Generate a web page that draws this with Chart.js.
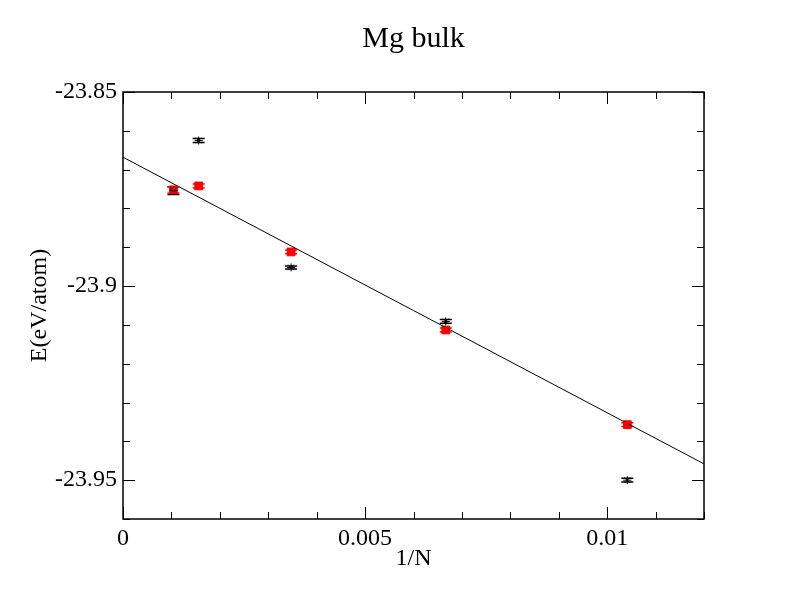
<!DOCTYPE html>
<html><head><meta charset="utf-8">
<script src="https://cdn.jsdelivr.net/npm/chart.js@4/dist/chart.umd.min.js"></script>
<style>html,body{margin:0;padding:0;background:#fff}canvas{display:block}</style>
</head>
<body>
<canvas id="c" width="792" height="612"></canvas>
<script>
// ---- data ----
const invN = [0.0010417, 0.0015625, 0.0034722, 0.0066667, 0.0104167];
const blackE = [-23.8754, -23.8625, -23.8952, -23.9091, -23.9500];
const blackErr = [0.0010, 0.0005, 0.0004, 0.0005, 0.0005];
const redE = [-23.8752, -23.8742, -23.8912, -23.9113, -23.9357];
const redErr = [0.0008, 0.0005, 0.0005, 0.0005, 0.0005];
const fitX = [0, 0.012];
const fitE = [-23.8668, -23.9458];
const xTickValues = [0, 0.005, 0.01];
const xTickLabels = ['0', '0.005', '0.01'];
const yTickValues = [-23.95, -23.9, -23.85];
const yTickLabels = ['-23.95', '-23.9', '-23.85'];
const titleText = 'Mg bulk';
const xTitle = '1/N';
const yTitle = 'E(eV/atom)';

const FONT = "'Liberation Serif', 'Times New Roman', serif";

function labelFor(v, vals, labs) {
  for (let i = 0; i < vals.length; i++) if (Math.abs(v - vals[i]) < 1e-7) return labs[i];
  return '';
}
function stepTicks(min, max, step) {
  const n = Math.round((max - min) / step), out = [];
  for (let i = 0; i <= n; i++) out.push({ value: +(min + i * step).toFixed(6) });
  return out;
}
function isMajor(v, vals) { return vals.some(m => Math.abs(v - m) < 1e-7); }

const errSeries = [
  { y: blackE, e: blackErr, color: '#000000' },
  { y: redE, e: redErr, color: '#ff0000' }
];

const framePlugin = {
  id: 'framePlugin',
  afterDatasetsDraw(chart) {
    const ctx = chart.ctx, xs = chart.scales.x, ys = chart.scales.y;
    ctx.save();
    ctx.lineWidth = 1.5;
    errSeries.forEach(s => {
      ctx.strokeStyle = s.color;
      for (let i = 0; i < invN.length; i++) {
        const px = xs.getPixelForValue(invN[i]);
        const pt = ys.getPixelForValue(s.y[i] + s.e[i]);
        const pb = ys.getPixelForValue(s.y[i] - s.e[i]);
        ctx.beginPath();
        ctx.moveTo(px, pt); ctx.lineTo(px, pb);
        ctx.moveTo(px - 6, pt); ctx.lineTo(px + 6, pt);
        ctx.moveTo(px - 6, pb); ctx.lineTo(px + 6, pb);
        ctx.stroke();
      }
    });
    ctx.restore();
  },
  afterDraw(chart) {
    const ctx = chart.ctx, a = chart.chartArea, xs = chart.scales.x, ys = chart.scales.y;
    ctx.save();
    ctx.strokeStyle = '#000';
    ctx.lineWidth = 1.5;
    ctx.strokeRect(a.left, a.top, a.right - a.left, a.bottom - a.top);
    ctx.lineWidth = 1;
    ctx.beginPath();
    xs.ticks.forEach(t => {
      const px = Math.round(xs.getPixelForValue(t.value)) + 0.5;
      const L = isMajor(t.value, xTickValues) ? 12 : 7;
      ctx.moveTo(px, a.bottom); ctx.lineTo(px, a.bottom - L);
      ctx.moveTo(px, a.top); ctx.lineTo(px, a.top + L);
    });
    ys.ticks.forEach(t => {
      const py = Math.round(ys.getPixelForValue(t.value)) + 0.5;
      const L = isMajor(t.value, yTickValues) ? 12 : 7;
      ctx.moveTo(a.left, py); ctx.lineTo(a.left + L, py);
      ctx.moveTo(a.right, py); ctx.lineTo(a.right - L, py);
    });
    ctx.stroke();
    ctx.restore();
  }
};

new Chart(document.getElementById('c'), {
  type: 'scatter',
  data: {
    datasets: [
      {
        label: 'fit',
        data: fitX.map((x, i) => ({ x, y: fitE[i] })),
        showLine: true,
        borderColor: '#000',
        borderWidth: 1,
        pointRadius: 0,
        fill: false
      },
      {
        label: 'black',
        data: invN.map((x, i) => ({ x, y: blackE[i] })),
        pointStyle: 'star',
        pointRadius: 4,
        borderColor: '#000',
        backgroundColor: '#000',
        borderWidth: 1
      },
      {
        label: 'red',
        data: invN.map((x, i) => ({ x, y: redE[i] })),
        pointStyle: 'rect',
        pointRadius: 5.5,
        borderColor: '#ff0000',
        backgroundColor: '#ff0000',
        borderWidth: 1
      }
    ]
  },
  options: {
    responsive: false,
    animation: false,
    devicePixelRatio: 1,
    layout: { padding: { left: 0, right: 88, top: 0, bottom: 0 } },
    plugins: {
      legend: { display: false },
      tooltip: { enabled: false },
      title: {
        display: true,
        fullSize: false,
        text: titleText,
        color: '#000',
        font: { family: FONT, size: 30, weight: 'normal' },
        padding: { top: 21, bottom: 35 }
      }
    },
    scales: {
      x: {
        type: 'linear',
        min: 0, max: 0.012,
        afterBuildTicks(scale) { scale.ticks = stepTicks(0, 0.012, 0.001); },
        afterFit(scale) { scale.height = 93; },
        grid: { display: false, drawTicks: false },
        border: { display: false },
        ticks: {
          autoSkip: false, maxRotation: 0, minRotation: 0,
          padding: 5, color: '#000',
          font: { family: FONT, size: 24 },
          callback: (v) => labelFor(v, xTickValues, xTickLabels)
        },
        title: {
          display: true, text: xTitle, color: '#000',
          font: { family: FONT, size: 24 },
          padding: { top: 0, bottom: 39 }
        }
      },
      y: {
        type: 'linear',
        min: -23.96, max: -23.85,
        afterBuildTicks(scale) { scale.ticks = stepTicks(-23.96, -23.85, 0.01); },
        afterFit(scale) { scale.width = 123; },
        grid: { display: false, drawTicks: false },
        border: { display: false },
        ticks: {
          autoSkip: false, padding: 6, color: '#000',
          font: { family: FONT, size: 24 },
          callback: (v) => labelFor(v, yTickValues, yTickLabels)
        },
        title: {
          display: true, text: yTitle, color: '#000',
          font: { family: FONT, size: 24 },
          padding: { top: 25, bottom: 0 }
        }
      }
    }
  },
  plugins: [framePlugin]
});
</script>
</body></html>
